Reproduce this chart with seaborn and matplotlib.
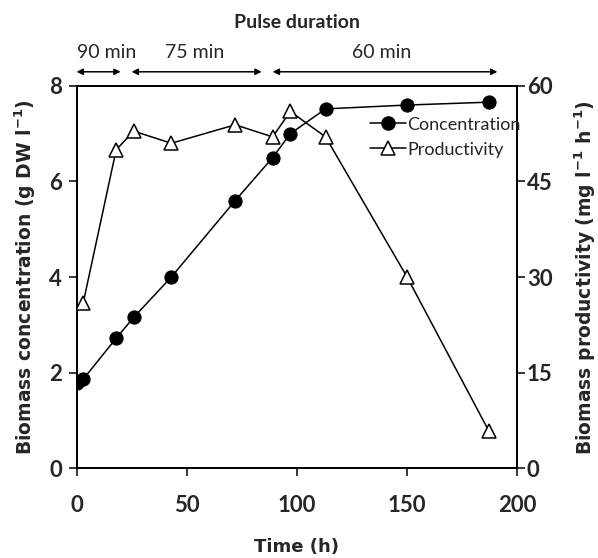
import numpy as np
import pandas as pd
import matplotlib
matplotlib.use("Agg")
import matplotlib.pyplot as plt
import seaborn as sns
from matplotlib.lines import Line2D

# data
time_conc = [0, 3, 18, 26, 43, 72, 89, 97, 113, 150, 187]
conc = [1.78, 1.86, 2.72, 3.16, 4.0, 5.6, 6.5, 7.0, 7.52, 7.6, 7.66]
time_prod = [3, 18, 26, 43, 72, 89, 97, 113, 150, 187]
prod = [25.9, 50.0, 52.9, 51.0, 53.9, 52.0, 56.0, 52.0, 30.0, 5.9]

# pulse periods (h) and their labels
pulse_start = [0, 25, 89]
pulse_end = [20, 84, 191]
pulse_label = ["90 min", "75 min", "60 min"]
pulse_label_x = [13.7, 53.5, 138.4]

x_ticks = [0, 50, 100, 150, 200]
y1_ticks = [0, 2, 4, 6, 8]
y2_ticks = [0, 15, 30, 45, 60]

sns.set_style("ticks")
plt.rcParams['font.family'] = ['Lato', 'DejaVu Sans']
plt.rcParams['mathtext.fontset'] = 'dejavusans'

df_c = pd.DataFrame({"time": time_conc, "conc": conc})
df_p = pd.DataFrame({"time": time_prod, "prod": prod})

fig = plt.figure(figsize=(5.98, 5.58), dpi=100)
ax = fig.add_axes([0.128, 0.161, 0.737, 0.685])
ax2 = ax.twinx()

sns.lineplot(data=df_c, x="time", y="conc", ax=ax, color="black", marker="o",
             markersize=9.5, markeredgecolor="black", markerfacecolor="black",
             linewidth=1.1, zorder=3)
sns.lineplot(data=df_p, x="time", y="prod", ax=ax2, color="black", marker="^",
             markersize=10, markeredgecolor="black", markerfacecolor="white",
             markeredgewidth=1.1, linewidth=1.1, zorder=3)

ax.set_xlim(0, 200)
ax.set_ylim(0, 8)
ax2.set_ylim(0, 60)
ax.set_xticks(x_ticks)
ax.set_yticks(y1_ticks)
ax2.set_yticks(y2_ticks)

for a in (ax, ax2):
    for s in a.spines.values():
        s.set_linewidth(1.3)
        s.set_color("black")
        s.set_visible(True)

ax.tick_params(axis="x", direction="out", length=5.5, width=1.3, pad=14, labelsize=16)
ax.tick_params(axis="y", direction="out", length=5.5, width=1.3, pad=5, labelsize=16)
ax2.tick_params(axis="y", direction="out", length=5.5, width=1.3, pad=1.5, labelsize=16)
for lab in ax.get_xticklabels() + ax.get_yticklabels() + ax2.get_yticklabels():
    lab.set_fontweight("bold")

ax.set_xlabel("Time (h)", fontsize=13, fontweight="bold", family="DejaVu Sans")
ax.set_ylabel(r"Biomass concentration (g DW l$^{\mathbf{-1}}$)", fontsize=13.5,
              fontweight="bold", family="DejaVu Sans")
ax2.set_ylabel(r"Biomass productivity (mg l$^{\mathbf{-1}}$ h$^{\mathbf{-1}}$)",
               fontsize=13.5, fontweight="bold", family="DejaVu Sans")
ax.xaxis.set_label_coords(0.5, -0.205)
ax.xaxis.label.set_verticalalignment("center")
ax.yaxis.set_label_coords(-0.117, 0.5)
ax.yaxis.label.set_verticalalignment("center")
ax2.yaxis.set_label_coords(1.154, 0.5)
ax2.yaxis.label.set_verticalalignment("center")

# pulse duration annotations
trans = ax.get_xaxis_transform()
for x0, x1 in zip(pulse_start, pulse_end):
    ax.annotate("", xy=(x1, 1.037), xytext=(x0, 1.037), xycoords=trans,
                textcoords=trans, annotation_clip=False,
                arrowprops=dict(arrowstyle="<|-|>", color="black", lw=1.1,
                                mutation_scale=9, shrinkA=0, shrinkB=0))
for xl, txt in zip(pulse_label_x, pulse_label):
    ax.text(xl, 1.088, txt, transform=trans, ha="center", va="center", fontsize=14)
ax.text(100, 1.167, "Pulse duration", transform=trans, ha="center", va="center",
        fontsize=14, fontweight="bold")

handles = [
    Line2D([], [], color="black", marker="o", markersize=9.5, linewidth=1.1,
           markerfacecolor="black"),
    Line2D([], [], color="black", marker="^", markersize=10, linewidth=1.1,
           markerfacecolor="white", markeredgewidth=1.1),
]
leg = ax2.legend(handles, ["Concentration", "Productivity"], loc="upper left",
                 bbox_to_anchor=(0.665, 0.92), frameon=False, fontsize=13,
                 handlelength=2.0, handletextpad=0.1, labelspacing=0.5,
                 borderaxespad=0, borderpad=0)

fig.savefig("out.png", dpi=100)
